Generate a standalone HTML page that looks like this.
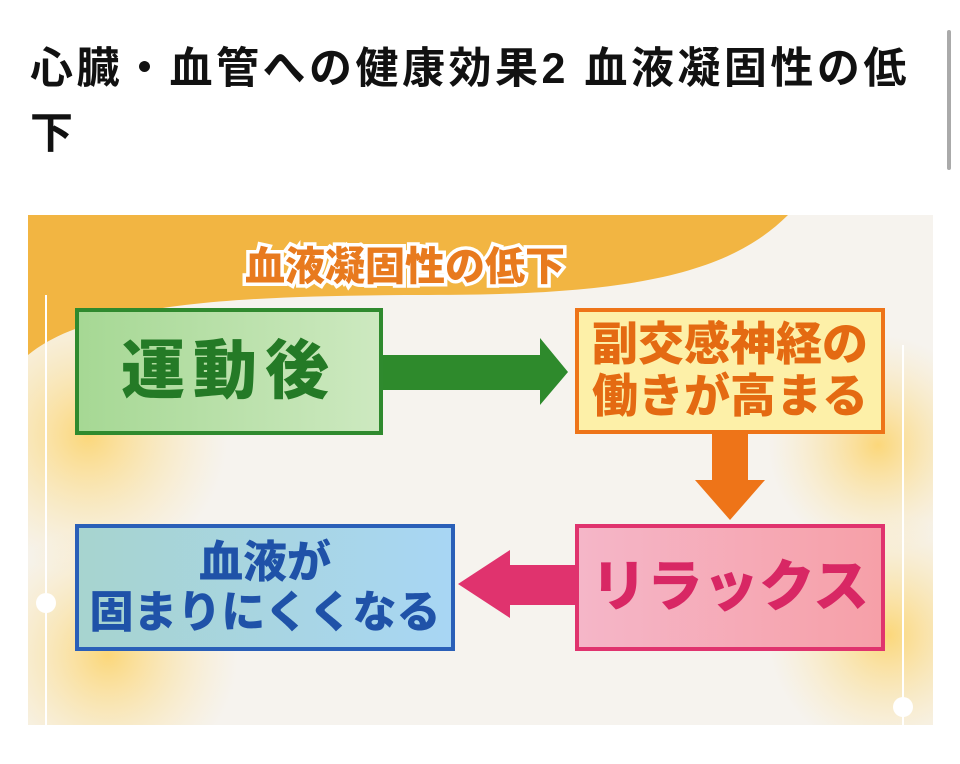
<!DOCTYPE html>
<html><head><meta charset="utf-8"><style>
body{margin:0;width:960px;height:764px;background:#fff;overflow:hidden;position:relative;font-family:"Liberation Sans","Noto Sans CJK JP",sans-serif}
.t{position:absolute;left:30px;font-size:43px;font-weight:bold;color:#111;line-height:1;letter-spacing:3.5px;white-space:nowrap}
.b{position:absolute;box-sizing:border-box;border:4px solid;display:flex;align-items:center;justify-content:center;text-align:center;font-weight:900;line-height:1.12;white-space:nowrap}
</style></head><body>
<div class="t" style="top:48px">心臓・血管への健康効果2 血液凝固性の低</div>
<div class="t" style="top:113px">下</div>
<div style="position:absolute;left:947px;top:30px;width:4px;height:140px;background:#aaa;border-radius:2px"></div>
<svg style="position:absolute;left:28px;top:215px" width="905" height="510">
<defs><radialGradient id="g"><stop offset="0" stop-color="#fbd77a"/><stop offset="1" stop-color="#fbe6b0" stop-opacity="0"/></radialGradient></defs>
<rect width="905" height="510" fill="#f6f3ee"/>
<circle cx="60" cy="220" r="140" fill="url(#g)"/>
<circle cx="80" cy="440" r="130" fill="url(#g)"/>
<circle cx="850" cy="230" r="110" fill="url(#g)"/>
<circle cx="860" cy="420" r="120" fill="url(#g)"/>
<path d="M0 0 H760 C700 60 600 80 400 80 C200 80 60 90 0 140 Z" fill="#f2b542"/>
<line x1="18" y1="80" x2="18" y2="510" stroke="#fff" stroke-width="2"/>
<line x1="875" y1="130" x2="875" y2="510" stroke="#fff" stroke-width="2"/>
<circle cx="18" cy="388" r="10" fill="#fff"/>
<circle cx="875" cy="492" r="10" fill="#fff"/>
<text x="377" y="65" font-size="40" font-weight="900" fill="#e87a1e" stroke="#fff" stroke-width="7" paint-order="stroke" text-anchor="middle" font-family="Noto Sans CJK JP">血液凝固性の低下</text>
<polygon points="355,140 512,140 512,123 540,157 512,190 512,175 355,175" fill="#2e8a2c"/>
<polygon points="684,218 720,218 720,265 737,265 702,305 667,265 684,265" fill="#ee7418"/>
<polygon points="547,350 482,350 482,335 430,369 482,403 482,390 547,390" fill="#e0336e"/>
</svg>
<div class="b" style="left:75px;top:308px;width:308px;height:127px;border-color:#2f8a2e;background:linear-gradient(90deg,#a6d894,#cde9c0);color:#247a26;font-size:64px;letter-spacing:8px">運動後</div>
<div class="b" style="left:575px;top:308px;width:310px;height:126px;border-color:#ee7418;background:#fdf0a8;color:#e46a12;font-size:46px">副交感神経の<br>働きが高まる</div>
<div class="b" style="left:575px;top:524px;width:310px;height:127px;border-color:#e0336e;background:linear-gradient(90deg,#f5b6c8,#f6a0a8);color:#d82764;font-size:56px">リラックス</div>
<div class="b" style="left:75px;top:524px;width:380px;height:127px;border-color:#2a5fb8;background:linear-gradient(90deg,#a7d4cf,#a8d6f4);color:#1f52a8;font-size:44px">血液が<br>固まりにくくなる</div>
</body></html>
